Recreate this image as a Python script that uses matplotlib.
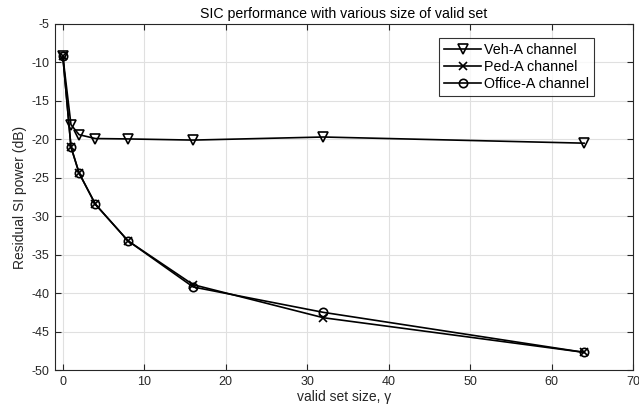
import matplotlib
matplotlib.use("Agg")
import matplotlib.pyplot as plt

plt.rcParams['font.family'] = ['Liberation Sans', 'DejaVu Sans']
plt.rcParams['axes.unicode_minus'] = False

x = [0, 1, 2, 4, 8, 16, 32, 64]
veh_a = [-9.2, -18.1, -19.4, -19.9, -19.95, -20.1, -19.7, -20.5]
ped_a = [-9.2, -21.0, -24.4, -28.45, -33.2, -38.9, -43.2, -47.7]
office_a = [-9.2, -21.0, -24.4, -28.45, -33.2, -39.2, -42.5, -47.7]

xticks = [0, 10, 20, 30, 40, 50, 60, 70]
yticks = [-50, -45, -40, -35, -30, -25, -20, -15, -10, -5]

fig = plt.figure(figsize=(6.39, 4.13), dpi=100)
ax = fig.add_axes([0.0856, 0.104, 0.905, 0.838])

axis_col = '#262626'
ax.plot(x, veh_a, color='black', lw=1.2, marker='v', ms=7, mfc='none', mec='black', mew=1.2, label='Veh-A channel')
ax.plot(x, ped_a, color='black', lw=1.2, marker='x', ms=6, mec='black', mew=1.2, label='Ped-A channel')
ax.plot(x, office_a, color='black', lw=1.2, marker='o', ms=6, mfc='none', mec='black', mew=1.2, label='Office-A channel')

ax.set_xlim(-1, 70)
ax.set_ylim(-50, -5)
ax.set_xticks(xticks)
ax.set_yticks(yticks)
ax.set_xticklabels([str(t) for t in xticks])
ax.set_yticklabels([str(t) for t in yticks])
ax.grid(True, color='#e0e0e0', lw=0.8)
ax.set_axisbelow(True)
ax.tick_params(direction='in', top=True, right=True, labelsize=9, colors=axis_col, length=4, width=0.8, pad=4)
for s in ax.spines.values():
    s.set_color(axis_col)
    s.set_linewidth(0.8)

ax.set_title('SIC performance with various size of valid set', fontsize=10.2, color='black', pad=4)
ax.set_xlabel('valid set size, γ', fontsize=10, color=axis_col, labelpad=2)
ax.set_ylabel('Residual SI power (dB)', fontsize=10, color=axis_col, labelpad=3)

leg = ax.legend(loc='upper right', bbox_to_anchor=(594/639, 1 - 38/413), bbox_transform=fig.transFigure,
                fontsize=10.3, frameon=True, fancybox=False, edgecolor='black', handlelength=2.6,
                handletextpad=0.2, borderpad=0.35, labelspacing=0.2, borderaxespad=0)
leg.get_frame().set_linewidth(0.8)

fig.savefig('out.png', dpi=100)
